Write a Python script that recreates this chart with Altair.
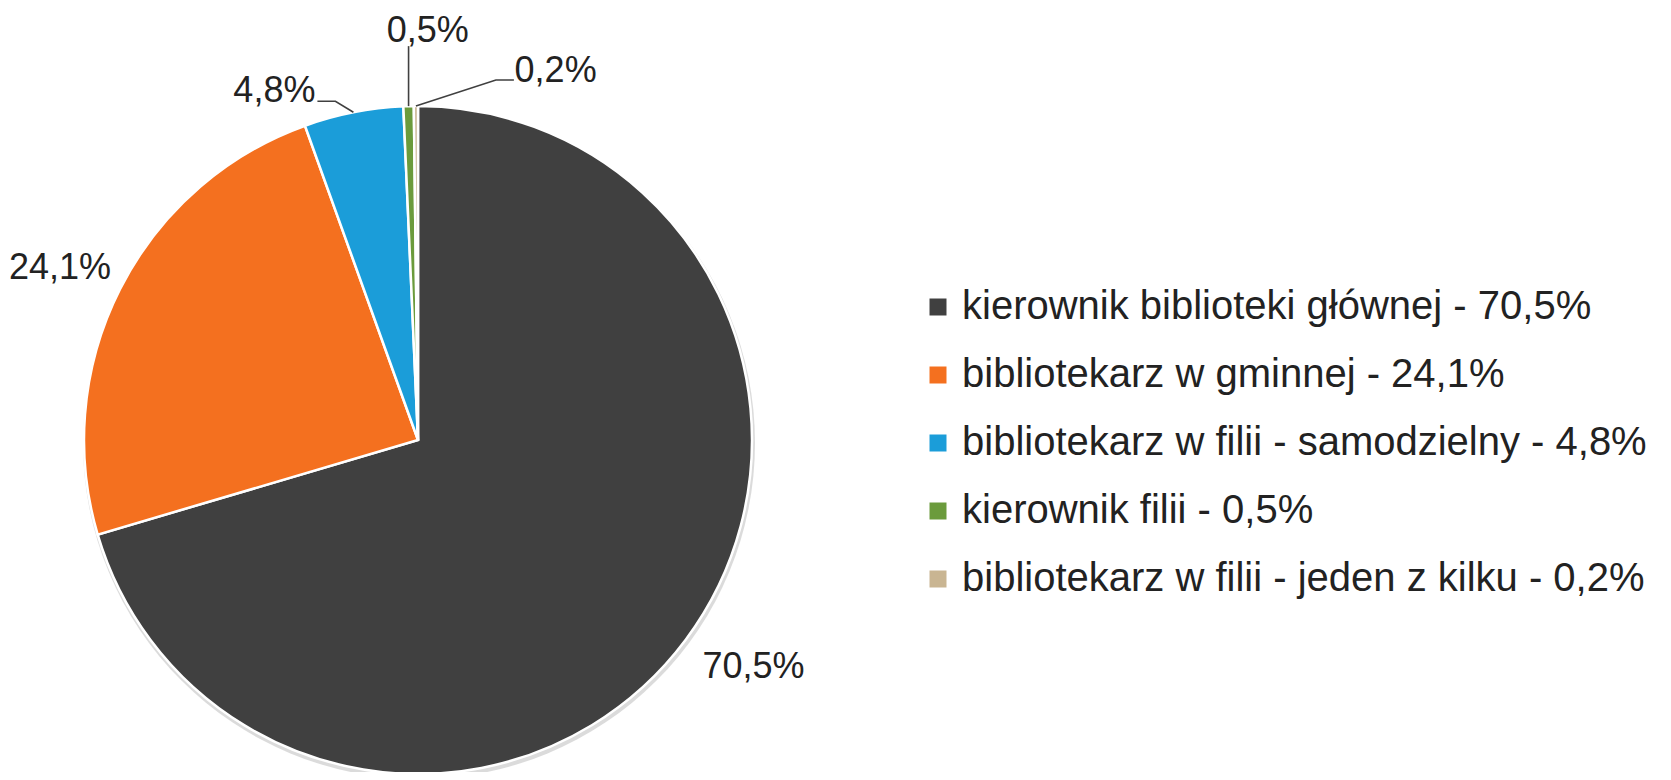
import math
import altair as alt
import pandas as pd

# ---- data ----
categories = [
    "kierownik biblioteki głównej",
    "bibliotekarz w gminnej",
    "bibliotekarz w filii - samodzielny",
    "kierownik filii",
    "bibliotekarz w filii - jeden z kilku",
]
values = [70.5, 24.1, 4.8, 0.5, 0.2]
value_labels = ["70,5%", "24,1%", "4,8%", "0,5%", "0,2%"]
colors = ["#404040", "#F4701F", "#1B9DD9", "#6B9B3C", "#C9B592"]

# ---- style / geometry ----
CX, CY, R = 410, 432, 334
FONT = "Liberation Sans"
TXT = "#222222"
total = sum(values)

legend_labels = [f"{c} - {l}" for c, l in zip(categories, value_labels)]
cum = []
s = 0.0
for v in values:
    cum.append(s + v / 2)
    s += v
df = pd.DataFrame({
    "cat": legend_labels,
    "value": values,
    "label": value_labels,
    "idx": list(range(len(values))),
    "mid": cum,
})

theta_scale = alt.Scale(domain=[0, total], range=[0, 2 * math.pi])
theta_mid = alt.Theta("mid:Q", stack=None, scale=theta_scale)

# soft shadow under the pie
shadow = alt.Chart(pd.DataFrame({"value": [total]})).mark_arc(
    x=CX + 1, y=CY + 3, outerRadius=R + 2, color="#bdbdbd", opacity=0.55
).encode(theta=alt.Theta("value:Q", stack=True, scale=theta_scale))

pie = alt.Chart(df).mark_arc(
    x=CX, y=CY, outerRadius=R, stroke="white", strokeWidth=2.5
).encode(
    theta=alt.Theta("value:Q", stack=True, scale=theta_scale),
    order=alt.Order("idx:Q"),
    color=alt.Color(
        "cat:N",
        scale=alt.Scale(domain=legend_labels, range=colors),
        sort=legend_labels,
        legend=alt.Legend(
            orient="none", legendX=910, legendY=279, title=None,
            symbolType="square", symbolSize=289, symbolStrokeWidth=0,
            labelFontSize=40, labelFont=FONT, labelColor=TXT,
            labelLimit=2000, rowPadding=28, labelOffset=4,
            direction="vertical", padding=0,
        ),
    ),
)

# label placement (radius, dx, dy) per slice index
label_style = {
    0: (410, 7, -18),
    1: (380, -19, 0),
    2: (360, -74, 4),
    3: (400, 21, -9),
    4: (380, 140, 11),
}
text_layers = []
for i, (rad, dx, dy) in label_style.items():
    text_layers.append(
        alt.Chart(df).transform_filter(alt.datum.idx == i).mark_text(
            x=CX, y=CY, radius=rad, dx=dx, dy=dy, fontSize=36, font=FONT,
            color=TXT, align="center", baseline="middle",
        ).encode(theta=theta_mid, text="label:N")
    )

# leader lines for the small slices: start at slice edge, offsets as style
leader_offsets = {
    2: [(0, 0), (-18, -11), (-36, -11)],
    3: [(0, 0), (0, -60)],
    4: [(0, 0), (80, -26), (98, -26)],
}
rows = []
for i, pts in leader_offsets.items():
    a = 2 * math.pi * df.loc[i, "mid"] / total
    ex = CX + R * math.sin(a)
    ey = CY - R * math.cos(a)
    for k, (ox, oy) in enumerate(pts):
        rows.append({"seg": i, "pt": k, "px": ex + ox, "py": ey + oy})
leaders = pd.DataFrame(rows)

lead = alt.Chart(leaders).mark_line(color="#404040", strokeWidth=1.6).encode(
    x=alt.X("px:Q", scale=None, axis=None),
    y=alt.Y("py:Q", scale=None, axis=None),
    detail="seg:N",
    order="pt:Q",
)

chart = alt.layer(shadow, pie, lead, *text_layers).properties(
    width=1655, height=764, padding=0, autosize="none"
).configure_view(stroke=None)

chart.save("out.html", embed_options={"renderer": "svg", "actions": False})
